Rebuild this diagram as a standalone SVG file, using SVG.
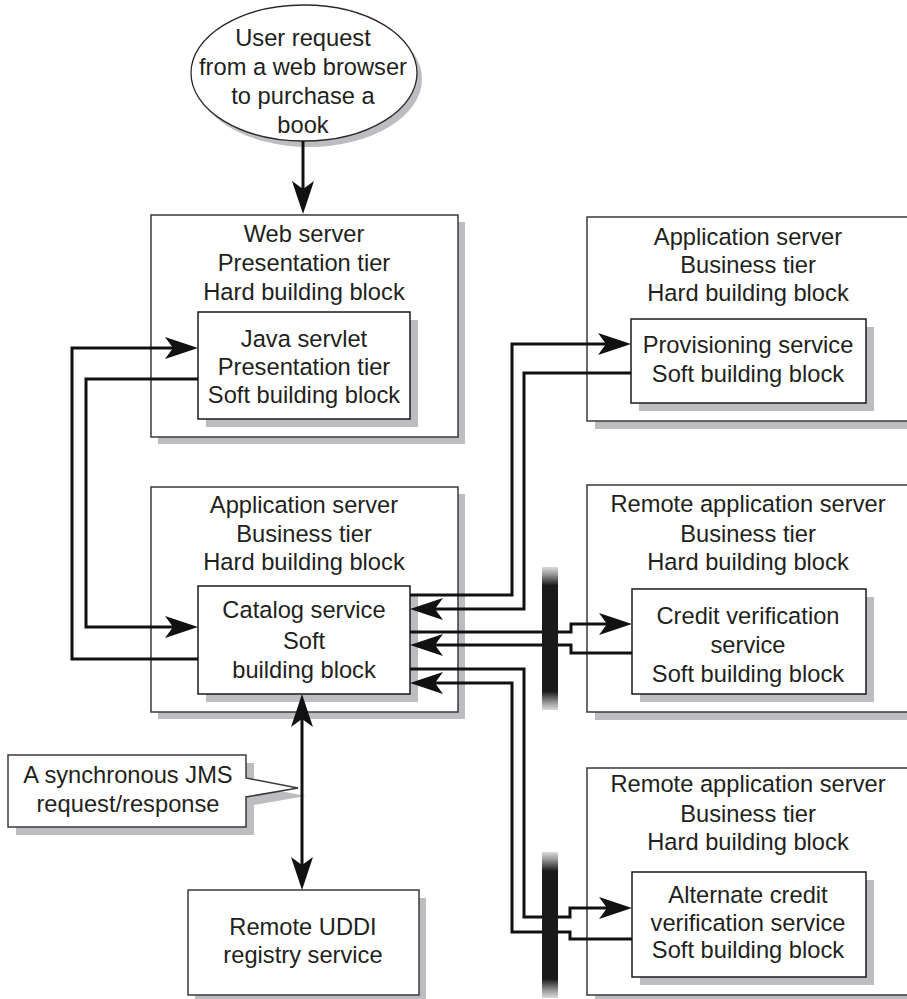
<svg xmlns="http://www.w3.org/2000/svg" width="907" height="999" viewBox="0 0 907 999">
  <style>
    .box { fill: #ffffff; stroke: #3a3a3a; stroke-width: 1.5; }
    .inner { fill: #ffffff; stroke: #1a1a1a; stroke-width: 1.5; }
    .shadow { fill: #bdbdc1; stroke: none; }
    .label { font-family: "Liberation Sans", Arial, Helvetica, sans-serif; font-size: 23.7px; fill: #231f20; text-anchor: middle; }
    .wire { fill: none; stroke: #111111; stroke-width: 3; stroke-linejoin: miter; }
  </style>
  <defs>
    <marker id="arrow" markerUnits="userSpaceOnUse" markerWidth="34" markerHeight="22" viewBox="0 0 34 22" refX="27" refY="11" orient="auto-start-reverse">
      <path d="M0,0 L33,11 L0,22 L8,11 Z" fill="#111111"/>
    </marker>
    <linearGradient id="barFade" x1="0" y1="0" x2="0" y2="1">
      <stop offset="0" stop-color="#dcdcdc"/>
      <stop offset="0.05" stop-color="#9a9a9a"/>
      <stop offset="0.13" stop-color="#1a1a1a"/>
      <stop offset="0.87" stop-color="#1a1a1a"/>
      <stop offset="0.95" stop-color="#9a9a9a"/>
      <stop offset="1" stop-color="#dcdcdc"/>
    </linearGradient>
  </defs>

  <!-- user request -->
  <g id="user-request">
    <ellipse class="shadow" cx="309" cy="79" rx="113" ry="68"/>
    <ellipse cx="304" cy="73" rx="113" ry="68" fill="#ffffff" stroke="#2a2a2a" stroke-width="1.3"/>
    <text class="label" x="303" y="46">User request</text>
    <text class="label" x="303" y="75">from a web browser</text>
    <text class="label" x="303" y="104">to purchase a</text>
    <text class="label" x="303" y="133">book</text>
  </g>

  <!-- web server / presentation tier -->
  <g id="web-server">
    <rect class="shadow" x="158" y="222" width="307" height="222"/>
    <rect class="box" x="151" y="215" width="307" height="222"/>
    <text class="label" x="304" y="242">Web server</text>
    <text class="label" x="304" y="271">Presentation tier</text>
    <text class="label" x="304" y="300">Hard building block</text>
  </g>
  <g id="java-servlet">
    <rect class="shadow" x="206" y="320" width="212" height="107"/>
    <rect class="inner" x="198" y="312" width="212" height="107"/>
    <text class="label" x="304" y="347">Java servlet</text>
    <text class="label" x="304" y="375">Presentation tier</text>
    <text class="label" x="304" y="403">Soft building block</text>
  </g>

  <!-- local application server / business tier -->
  <g id="app-server">
    <rect class="shadow" x="158" y="494" width="307" height="225"/>
    <rect class="box" x="151" y="487" width="307" height="225"/>
    <text class="label" x="304" y="513">Application server</text>
    <text class="label" x="304" y="542">Business tier</text>
    <text class="label" x="304" y="570">Hard building block</text>
  </g>
  <g id="catalog-service">
    <rect class="shadow" x="206" y="594" width="212" height="108"/>
    <rect class="inner" x="198" y="586" width="212" height="108"/>
    <text class="label" x="304" y="618">Catalog service</text>
    <text class="label" x="304" y="649">Soft</text>
    <text class="label" x="304" y="678">building block</text>
  </g>

  <!-- provisioning application server -->
  <g id="provisioning-server">
    <rect class="shadow" x="595" y="225" width="340" height="204"/>
    <rect class="box" x="587" y="217" width="340" height="204"/>
    <text class="label" x="748" y="245">Application server</text>
    <text class="label" x="748" y="273">Business tier</text>
    <text class="label" x="748" y="301">Hard building block</text>
  </g>
  <g id="provisioning-service">
    <rect class="shadow" x="639" y="327" width="235" height="84"/>
    <rect class="inner" x="631" y="319" width="235" height="84"/>
    <text class="label" x="748" y="353">Provisioning service</text>
    <text class="label" x="748" y="382">Soft building block</text>
  </g>

  <!-- remote credit application server -->
  <g id="credit-server">
    <rect class="shadow" x="595" y="493" width="340" height="227"/>
    <rect class="box" x="587" y="485" width="340" height="227"/>
    <text class="label" x="748" y="512">Remote application server</text>
    <text class="label" x="748" y="542">Business tier</text>
    <text class="label" x="748" y="570">Hard building block</text>
  </g>
  <g id="credit-service">
    <rect class="shadow" x="640" y="597" width="234" height="105"/>
    <rect class="inner" x="632" y="589" width="234" height="105"/>
    <text class="label" x="748" y="624">Credit verification</text>
    <text class="label" x="748" y="653">service</text>
    <text class="label" x="748" y="682">Soft building block</text>
  </g>

  <!-- remote alternate credit application server -->
  <g id="alt-credit-server">
    <rect class="shadow" x="595" y="776" width="340" height="227"/>
    <rect class="box" x="587" y="768" width="340" height="227"/>
    <text class="label" x="748" y="792">Remote application server</text>
    <text class="label" x="748" y="822">Business tier</text>
    <text class="label" x="748" y="850">Hard building block</text>
  </g>
  <g id="alt-credit-service">
    <rect class="shadow" x="640" y="880" width="234" height="105"/>
    <rect class="inner" x="632" y="872" width="234" height="105"/>
    <text class="label" x="748" y="903">Alternate credit</text>
    <text class="label" x="748" y="931">verification service</text>
    <text class="label" x="748" y="958">Soft building block</text>
  </g>

  <!-- UDDI registry -->
  <g id="uddi-registry">
    <rect class="shadow" x="195" y="898" width="231" height="105"/>
    <rect class="box" x="188" y="890" width="231" height="105"/>
    <text class="label" x="303" y="935">Remote UDDI</text>
    <text class="label" x="303" y="963">registry service</text>
  </g>

  <!-- callout -->
  <g id="jms-callout">
    <path class="shadow" d="M16,763 H254 V786 L306,796 L254,805 V835 H16 Z"/>
    <path d="M8,755 H246 V778 L298,788 L246,797 V827 H8 Z" fill="#ffffff" stroke="#3a3a3a" stroke-width="1.5"/>
    <text class="label" x="128" y="783">A synchronous JMS</text>
    <text class="label" x="128" y="812">request/response</text>
  </g>

  <!-- connectors -->
  <g id="connectors">
    <path class="wire" d="M303,141 V208" marker-end="url(#arrow)"/>
    <!-- servlet <-> catalog loop -->
    <path class="wire" d="M198,659 H72 V348 H192" marker-end="url(#arrow)"/>
    <path class="wire" d="M198,379 H86 V627 H192" marker-end="url(#arrow)"/>
    <!-- catalog <-> provisioning -->
    <path class="wire" d="M410,595 H512 V344 H625" marker-end="url(#arrow)"/>
    <path class="wire" d="M631,373 H524 V609 H416" marker-end="url(#arrow)"/>
    <!-- catalog <-> credit verification -->
    <path class="wire" d="M410,632 H571 V624 H626" marker-end="url(#arrow)"/>
    <path class="wire" d="M632,653 H571 V645 H416" marker-end="url(#arrow)"/>
    <!-- catalog <-> alternate credit verification -->
    <path class="wire" d="M410,669 H524 V917 H570 V908 H626" marker-end="url(#arrow)"/>
    <path class="wire" d="M632,939 H570 V932 H512 V683 H416" marker-end="url(#arrow)"/>
    <!-- catalog <-> UDDI -->
    <path class="wire" d="M302,700 V884" marker-start="url(#arrow)" marker-end="url(#arrow)"/>
  </g>

  <!-- network boundaries -->
  <g id="network-bars">
    <rect x="542" y="567" width="16" height="143" fill="url(#barFade)"/>
    <rect x="542" y="852" width="16" height="146" fill="url(#barFade)"/>
  </g>
</svg>
